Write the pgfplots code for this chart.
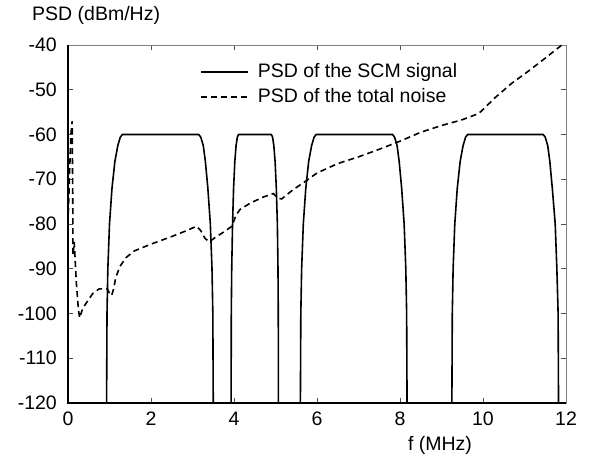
\documentclass[border=0pt]{standalone}
\usepackage{pgfplots}
\pgfplotsset{compat=1.18}
\usepackage{fontspec}
\setmainfont{Liberation Sans}

\begin{document}
\fontsize{19.5}{23}\selectfont
\begin{tikzpicture}
\begin{axis}[
    at={(0pt,0pt)}, anchor=south west,
    width=498pt, height=358pt, scale only axis,
    xmin=0, xmax=12, ymin=-120, ymax=-40,
    xtick={0,2,...,12}, ytick={-120,-110,...,-40},
    /pgf/number format/assume math mode=true,
    tick label style={font=\fontsize{19.5}{23}\selectfont},
    xticklabel style={anchor=north, text height=14pt, text depth=0pt,
        inner sep=0pt, yshift=-8.5pt},
    yticklabel style={anchor=east, inner sep=0pt, xshift=-11pt},
    major tick length=5pt,
    every tick/.style={black!70, line width=0.8pt},
    axis line style={gray, line width=0.9pt},
    after end axis/.code={
        \draw[black, line width=1.1pt] (rel axis cs:0,1) -- (rel axis cs:0,0)
            -- (rel axis cs:1,0);
    },
    unbounded coords=jump,
    xlabel={f (MHz)},
    xlabel style={at={(axis description cs:0.747,0)}, anchor=base,
        yshift=-48pt, inner sep=0pt, font=\fontsize{19.5}{23}\selectfont},
    legend style={at={(axis description cs:0.265,0.955)}, anchor=north west,
        draw=none, fill=none, inner sep=0pt, row sep=4pt,
        font=\fontsize{19.5}{23}\selectfont,
        nodes={inner sep=2pt},
        /tikz/every odd column/.append style={column sep=7pt}},
    legend cell align=left,
    legend image code/.code={\draw[#1] (0pt,0pt) -- (47pt,0pt);},
]
% signal PSD, four subcarrier bands
\addplot[black, line width=1.6pt] coordinates {
    (0.93,-120) (0.94,-100) (0.96,-90) (1.0,-80) (1.06,-72) (1.13,-66)
    (1.2,-62.5) (1.26,-60.6) (1.31,-60) (3.15,-60) (3.2,-60.6) (3.26,-62.5)
    (3.31,-66) (3.37,-72) (3.43,-80) (3.47,-90) (3.49,-100) (3.5,-120)
    (3.7,nan)
    (3.93,-120) (3.935,-100) (3.945,-90) (3.965,-80) (3.99,-72) (4.02,-66)
    (4.05,-62.5) (4.08,-60.6) (4.11,-60) (4.9,-60) (4.93,-60.6) (4.96,-62.5)
    (4.99,-66) (5.02,-72) (5.045,-80) (5.06,-90) (5.067,-100) (5.07,-120)
    (5.3,nan)
    (5.6,-120) (5.61,-100) (5.63,-90) (5.67,-80) (5.73,-72) (5.8,-66)
    (5.87,-62.5) (5.93,-60.6) (5.98,-60) (7.82,-60) (7.87,-60.6) (7.93,-62.5)
    (7.98,-66) (8.04,-72) (8.1,-80) (8.14,-90) (8.16,-100) (8.17,-120)
    (8.7,nan)
    (9.25,-120) (9.26,-100) (9.28,-90) (9.32,-80) (9.38,-72) (9.45,-66)
    (9.52,-62.5) (9.58,-60.6) (9.63,-60) (11.45,-60) (11.5,-60.6) (11.56,-62.5)
    (11.61,-66) (11.67,-72) (11.74,-80) (11.78,-90) (11.81,-100) (11.82,-120)
};
\addlegendentry{PSD of the SCM signal}
% total noise PSD
\addplot[black, line width=1.6pt, dash pattern=on 6pt off 4pt] coordinates {
    (0,-80) (0.04,-68) (0.07,-60) (0.1,-57) (0.115,-75) (0.12,-87) (0.15,-84)
    (0.2,-93) (0.25,-99) (0.28,-101) (0.35,-99) (0.45,-97.5) (0.6,-95.5)
    (0.75,-94.5) (0.95,-94.5) (1.0,-95.5) (1.05,-96) (1.1,-94.5) (1.15,-92)
    (1.25,-89.5) (1.4,-87.5) (1.6,-86) (2.0,-84.5) (2.5,-82.8) (2.8,-81.7)
    (3.1,-80.5) (3.2,-81.5) (3.3,-83.2) (3.4,-84) (3.55,-83) (3.75,-81.8)
    (3.95,-80.5) (4.05,-78) (4.15,-76.7) (4.4,-75.3) (4.7,-74) (4.95,-73.2)
    (5.05,-74.2) (5.15,-74.4) (5.4,-72.5) (5.7,-70.6) (6.0,-68.6) (6.5,-66.5)
    (7.0,-65) (7.5,-63.3) (8.0,-61.5) (8.5,-59.5) (9.0,-58) (9.5,-56.7)
    (9.9,-55.3) (10.1,-53.5) (10.3,-51.7) (10.7,-48.5) (11.1,-45.8)
    (11.45,-43.3) (11.9,-40)
};
\addlegendentry{PSD of the total noise}
\end{axis}
% y-axis caption above the axis, as in the original
\node[anchor=base west, inner sep=0pt] at (-36pt,382pt) {PSD (dBm/Hz)};
\path (-68pt,-54pt) rectangle (524pt,403pt);
\end{tikzpicture}
\end{document}
